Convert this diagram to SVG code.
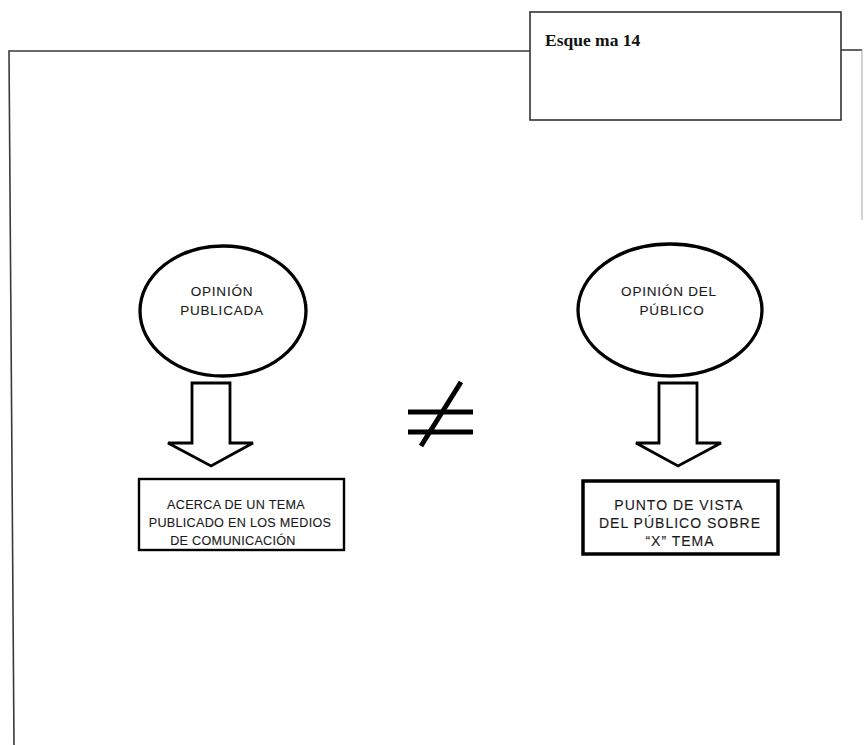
<svg xmlns="http://www.w3.org/2000/svg" width="866" height="745" viewBox="0 0 866 745">
  <defs>
    <style>
      .frame { fill: none; stroke: #3a3a3a; stroke-width: 1.6; }
      .frame-faint { fill: none; stroke: #b5b5b5; stroke-width: 1.2; }
      .bubble { fill: #ffffff; stroke: #000000; stroke-width: 3.3; }
      .down-arrow { fill: #ffffff; stroke: #000000; stroke-width: 2.8; stroke-linejoin: miter; }
      .box { fill: #ffffff; stroke: #000000; }
      .label { font-family: "Liberation Sans", Arial, sans-serif; fill: #1a1a1a; stroke: #1a1a1a; stroke-width: 0.12; text-anchor: middle; }
      .bubble-text { font-size: 13.5px; letter-spacing: 0.8px; }
      .box-text-left { font-size: 12.6px; letter-spacing: 0.3px; }
      .box-text-right { font-size: 14px; letter-spacing: 1px; }
      .title { font-family: "Liberation Serif", "Times New Roman", serif; font-weight: bold; font-size: 17.5px; fill: #111111; }
      .neq { stroke: #000000; stroke-width: 5; fill: none; }
    </style>
  </defs>

  <rect width="866" height="745" fill="#ffffff"/>

  <!-- page frame -->
  <g id="frame">
    <path class="frame" d="M530,51 L9,51 L14,745"/>
    <path class="frame" d="M841,50 L862,50"/>
    <path class="frame-faint" d="M862,50 L862,220"/>
  </g>

  <!-- heading box -->
  <g id="heading">
    <rect x="530" y="12" width="311" height="108" fill="#ffffff" stroke="#333333" stroke-width="1.6"/>
    <text class="title" x="545" y="46">Esque ma 14</text>
  </g>

  <!-- left column -->
  <g id="opinion-publicada">
    <ellipse class="bubble" cx="223" cy="311" rx="83" ry="65"/>
    <text class="label bubble-text" x="222" y="296">OPINIÓN</text>
    <text class="label bubble-text" x="222" y="315">PUBLICADA</text>
  </g>

  <g id="tema-publicado">
    <rect class="box" x="139" y="479" width="205" height="71" stroke-width="2.4"/>
    <text class="label box-text-left" x="236" y="509">ACERCA DE UN TEMA</text>
    <text class="label box-text-left" x="240" y="527">PUBLICADO EN LOS MEDIOS</text>
    <text class="label box-text-left" x="233" y="545">DE COMUNICACIÓN</text>
  </g>

  <!-- right column -->
  <g id="opinion-publico">
    <ellipse class="bubble" cx="670" cy="310" rx="92" ry="66"/>
    <text class="label bubble-text" x="669" y="296">OPINIÓN DEL</text>
    <text class="label bubble-text" x="672" y="315">PÚBLICO</text>
  </g>

  <g id="punto-de-vista">
    <rect class="box" x="583" y="481" width="195" height="73" stroke-width="3.5"/>
    <text class="label box-text-right" x="679" y="510">PUNTO DE VISTA</text>
    <text class="label box-text-right" x="680" y="528">DEL PÚBLICO SOBRE</text>
    <text class="label box-text-right" x="680" y="546">“X” TEMA</text>
  </g>

  <!-- hollow block arrows between bubbles and boxes -->
  <g id="connectors">
    <path class="down-arrow" d="M192,383 L230,383 L230,443 L253,443 L211,466 L168,443 L192,443 Z"/>
    <path class="down-arrow" d="M659,383 L697,383 L697,443 L721,443 L678,466 L636,443 L659,443 Z"/>
  </g>

  <!-- not-equal sign -->
  <g id="not-equal">
    <line class="neq" x1="408" y1="412" x2="473" y2="412"/>
    <line class="neq" x1="408" y1="432" x2="473" y2="432"/>
    <line class="neq" x1="421" y1="446" x2="461" y2="382"/>
  </g>
</svg>
